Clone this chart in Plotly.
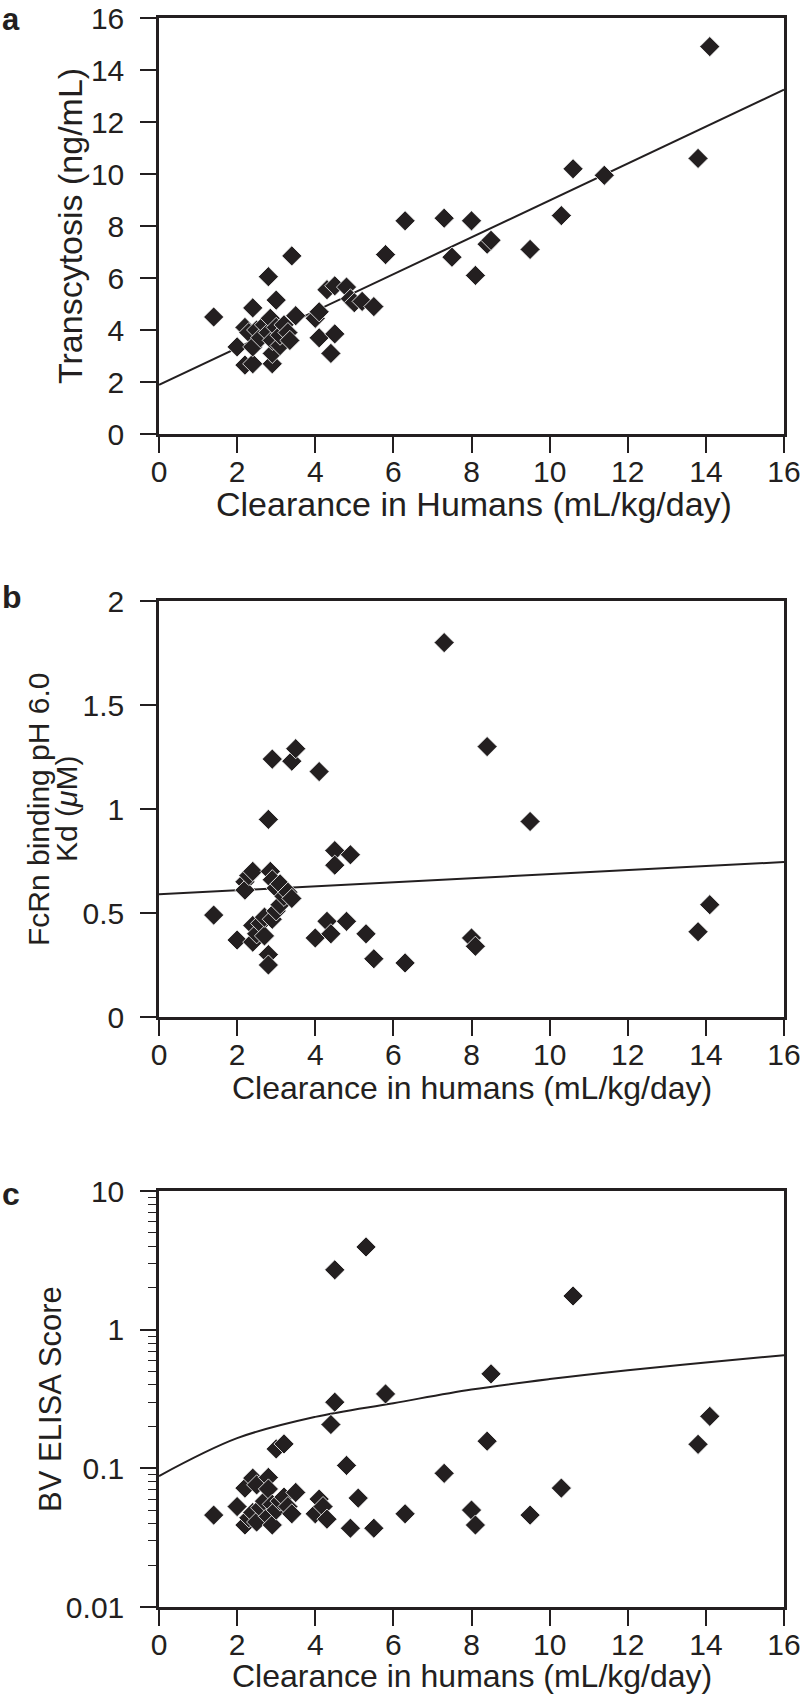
import plotly.graph_objects as go

W, H = 800, 1695
INK = '#231f20'
FONT = 'Liberation Sans, Arial, Helvetica, sans-serif'

# ---------------- Panel a : transcytosis ----------------
a_x = [1.4, 2.0, 2.2, 2.2, 2.3, 2.4, 2.4, 2.4, 2.5, 2.6, 2.7, 2.8, 2.8, 2.85, 2.9, 2.9,
       2.9, 3.0, 3.0, 3.1, 3.1, 3.2, 3.3, 3.35, 3.4, 3.5, 4.0, 4.1, 4.1, 4.3, 4.4, 4.5,
       4.5, 4.8, 4.9, 5.0, 5.2, 5.5, 5.8, 6.3, 7.3, 7.5, 8.0, 8.1, 8.4, 8.5, 9.5, 10.3,
       10.6, 11.4, 13.8, 14.1]
a_y = [4.5, 3.35, 2.65, 4.1, 3.9, 2.7, 3.35, 4.85, 4.0, 3.7, 4.2, 6.05, 3.9, 4.45, 2.7, 3.1,
       3.6, 5.15, 4.1, 3.4, 3.8, 4.2, 3.9, 3.6, 6.85, 4.55, 4.45, 4.7, 3.7, 5.55, 3.1, 3.85,
       5.7, 5.65, 5.2, 5.05, 5.1, 4.9, 6.9, 8.2, 8.3, 6.8, 8.2, 6.1, 7.3, 7.45, 7.1, 8.4,
       10.2, 9.95, 10.6, 14.9]
a_fit_x = [0, 16]
a_fit_y = [1.89, 13.24]

# ---------------- Panel b : FcRn Kd ----------------
b_x = [1.4, 2.0, 2.2, 2.2, 2.3, 2.4, 2.4, 2.4, 2.5, 2.6, 2.7, 2.7, 2.8, 2.8, 2.8, 2.85,
       2.9, 2.9, 2.9, 3.0, 3.0, 3.1, 3.1, 3.2, 3.3, 3.4, 3.4, 3.5, 4.0, 4.1, 4.3, 4.4,
       4.5, 4.5, 4.8, 4.9, 5.3, 5.5, 6.3, 7.3, 8.0, 8.1, 8.4, 9.5, 13.8, 14.1]
b_y = [0.49, 0.37, 0.65, 0.61, 0.68, 0.70, 0.44, 0.36, 0.40, 0.45, 0.39, 0.48, 0.95, 0.30, 0.25, 0.70,
       1.24, 0.47, 0.66, 0.62, 0.51, 0.64, 0.54, 0.58, 0.60, 0.57, 1.23, 1.29, 0.38, 1.18, 0.46, 0.40,
       0.80, 0.73, 0.46, 0.78, 0.40, 0.28, 0.26, 1.80, 0.38, 0.34, 1.30, 0.94, 0.41, 0.54]
b_fit_x = [0, 16]
b_fit_y = [0.59, 0.745]

# ---------------- Panel c : BV ELISA ----------------
c_x = [1.4, 2.0, 2.2, 2.2, 2.3, 2.4, 2.4, 2.5, 2.5, 2.6, 2.7, 2.8, 2.8, 2.8, 2.9, 2.9,
       3.0, 3.0, 3.1, 3.2, 3.2, 3.3, 3.4, 3.5, 4.0, 4.1, 4.2, 4.3, 4.4, 4.5, 4.5, 4.8,
       4.9, 5.1, 5.3, 5.5, 5.8, 6.3, 7.3, 8.0, 8.1, 8.4, 8.5, 9.5, 10.3, 10.6, 13.8, 14.1]
c_y = [0.046, 0.053, 0.072, 0.039, 0.044, 0.085, 0.048, 0.076, 0.041, 0.052, 0.058, 0.086, 0.071, 0.045, 0.039, 0.055,
       0.138, 0.050, 0.058, 0.150, 0.062, 0.053, 0.047, 0.067, 0.047, 0.060, 0.053, 0.043, 0.207, 0.30, 2.7, 0.105,
       0.037, 0.061, 3.95, 0.037, 0.344, 0.047, 0.092, 0.050, 0.039, 0.157, 0.48, 0.046, 0.072, 1.75, 0.149, 0.237]
c_fit_x = [0, 2, 4, 6, 8, 10, 12, 14, 16]
c_fit_y = [0.088, 0.165, 0.235, 0.295, 0.37, 0.44, 0.51, 0.58, 0.655]

x_ticks = [0, 2, 4, 6, 8, 10, 12, 14, 16]

fig = go.Figure()

def py(p):
    return 1 - p / H

panels = [
    (a_x, a_y, a_fit_x, a_fit_y, 'linear'),
    (b_x, b_y, b_fit_x, b_fit_y, 'linear'),
    (c_x, c_y, c_fit_x, c_fit_y, 'spline'),
]
for i, (xs, ys, fx, fy, shape) in enumerate(panels, start=1):
    xa = 'x' if i == 1 else f'x{i}'
    ya = 'y' if i == 1 else f'y{i}'
    fig.add_trace(go.Scatter(x=fx, y=fy, mode='lines', xaxis=xa, yaxis=ya,
                             line=dict(color=INK, width=2, shape=shape),
                             showlegend=False, hoverinfo='skip'))
    fig.add_trace(go.Scatter(x=xs, y=ys, mode='markers', xaxis=xa, yaxis=ya,
                             marker=dict(symbol='diamond', size=15.5, color=INK,
                                         line=dict(color='white', width=0.8)),
                             showlegend=False))

tickfont = dict(family=FONT, size=30, color=INK)
common = dict(showline=True, linewidth=2.5, linecolor=INK, mirror=True,
              ticks='outside', ticklen=16, tickwidth=1.5, tickcolor=INK,
              showgrid=False, zeroline=False, tickfont=tickfont, automargin=False,
              ticklabeloverflow='allow')

xdom = [159 / W, 784 / W]
ydoms = [(18, 434), (601, 1017), (1191, 1607)]

layout = dict(width=W, height=H, margin=dict(l=0, r=0, t=0, b=0),
              paper_bgcolor='white', plot_bgcolor='white', showlegend=False)
for i, (top, bot) in enumerate(ydoms, start=1):
    xk = 'xaxis' if i == 1 else f'xaxis{i}'
    yk = 'yaxis' if i == 1 else f'yaxis{i}'
    ya = 'y' if i == 1 else f'y{i}'
    xa = 'x' if i == 1 else f'x{i}'
    layout[xk] = dict(common, domain=xdom, anchor=ya, range=[0, 16],
                      tickmode='array', tickvals=x_ticks, ticklabelstandoff=-7)
    layout[yk] = dict(common, domain=[py(bot), py(top)], anchor=xa, ticklabelstandoff=10)

layout['yaxis'].update(range=[0, 16], tickmode='array', tickvals=[0, 2, 4, 6, 8, 10, 12, 14, 16])
layout['yaxis2'].update(range=[0, 2], tickmode='array', tickvals=[0, 0.5, 1, 1.5, 2],
                        ticktext=['0', '0.5', '1', '1.5', '2'])
minor_vals = [m * 10 ** e for e in (-2, -1, 0) for m in range(2, 10)]
layout['yaxis3'].update(type='log', range=[-2, 1], tickmode='array',
                        tickvals=[0.01, 0.1, 1, 10], ticktext=['0.01', '0.1', '1', '10'],
                        minor=dict(ticks='outside', ticklen=8, tickwidth=1, tickcolor=INK,
                                   tickmode='array', tickvals=minor_vals, showgrid=False))

fig.update_layout(**layout)

def ann(text, x, y, size, bold=False, angle=0, xanchor='center', yanchor='middle'):
    fig.add_annotation(text=f'<b>{text}</b>' if bold else text, xref='paper', yref='paper',
                       x=x / W, y=py(y), xanchor=xanchor, yanchor=yanchor,
                       textangle=angle, showarrow=False,
                       font=dict(family=FONT, size=size, color=INK))

# panel letters
ann('a', 0, 0, 31, bold=True, xanchor='left', yanchor='top')
ann('b', 0, 597, 32, bold=True, xanchor='left')
ann('c', 0, 1194, 32, bold=True, xanchor='left')

# x titles
ann('Clearance in Humans (mL/kg/day)', 474, 504, 34)
ann('Clearance in humans (mL/kg/day)', 472, 1088, 32)
ann('Clearance in humans (mL/kg/day)', 472, 1676, 32)

# y titles
ann('Transcytosis (ng/mL)', 70, 226, 34, angle=-90)
ann('FcRn binding pH 6.0', 38, 809, 30, angle=-90)
ann('Kd (<i>μ</i>M)', 66, 809, 30, angle=-90)
ann('BV ELISA Score', 50, 1399, 31, angle=-90)

fig.write_html('out.html', config={'displayModeBar': False},
               post_script="document.body.style.margin='0px';document.body.style.overflow='hidden';")
